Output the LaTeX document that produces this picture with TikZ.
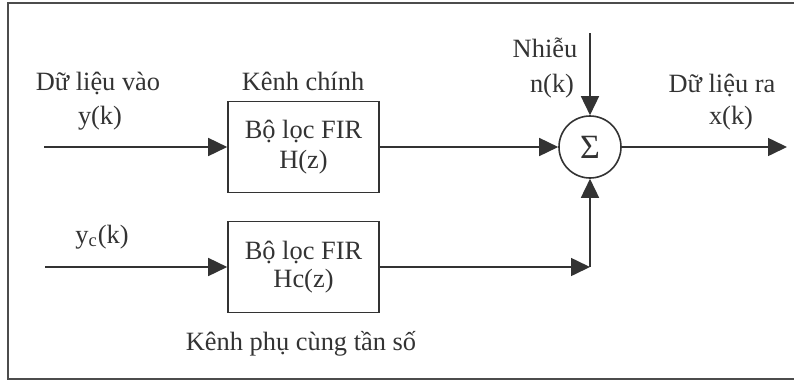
\documentclass[tikz,border=0pt]{standalone}
\usepackage{fontspec}
\setmainfont{Liberation Serif}
\usetikzlibrary{arrows.meta}

\tikzset{
	sig/.style={draw=black!80, line width=0.8pt, -{Triangle[length=9.5pt,width=9pt]}},
	firbox/.style={draw=black!80, line width=0.8pt, text=black!80, align=center, minimum width=75.5pt, minimum height=45.5pt, inner sep=0pt},
	sumnode/.style={draw=black!80, line width=0.8pt, text=black!80, circle, minimum size=31pt, inner sep=0pt},
	lbl/.style={anchor=base, text=black!80, inner sep=0pt}
}

\begin{document}
\begin{tikzpicture}[x=0.5pt, y=-0.5pt, font=\fontsize{13.2}{15}\selectfont]

	\useasboundingbox (0,0) rectangle (794,381);
	\draw[black!70, line width=0.8pt] (797,3) -- (8,3) -- (8,379) -- (797,379);

	\node[firbox] (fir) at (303.5,147) {Bộ lọc FIR\\H(z)};
	\node[firbox, font=\fontsize{13.2}{14}\selectfont] (firc) at (303.5,267) {Bộ lọc FIR\\Hc(z)};
	\node[sumnode, font=\fontsize{17}{17}\selectfont] (sum) at (590,147) {Σ};

	\coordinate (in) at (44,147);
	\coordinate (inc) at (45,267);
	\coordinate (noise) at (590,33);
	\coordinate (out) at (787,147);
	\coordinate (corner) at (590,267);

	\foreach \a/\b in {in/fir.west, fir.east/sum.west, noise/sum.north, sum.east/out,
		inc/firc.west, firc.east/corner, corner/sum.south}
		\draw[sig] (\a) -- (\b);
		; %end for \a

	\node[lbl] (inlbl) at (98,90) {Dữ liệu vào};
	\node[lbl] (inname) at (100,124) {y(k)};
	\node[lbl] (mainlbl) at (303,90) {Kênh chính};
	\node[lbl] (noiselbl) at (545,57) {Nhiễu};
	\node[lbl] (noisename) at (552,92) {n(k)};
	\node[lbl] (outlbl) at (722,92) {Dữ liệu ra};
	\node[lbl] (outname) at (731,124) {x(k)};
	\node[lbl] (incname) at (102,243) {y\textsubscript{c}(k)};
	\node[lbl] (auxlbl) at (301,350) {Kênh phụ cùng tần số};

\end{tikzpicture}
\end{document}
